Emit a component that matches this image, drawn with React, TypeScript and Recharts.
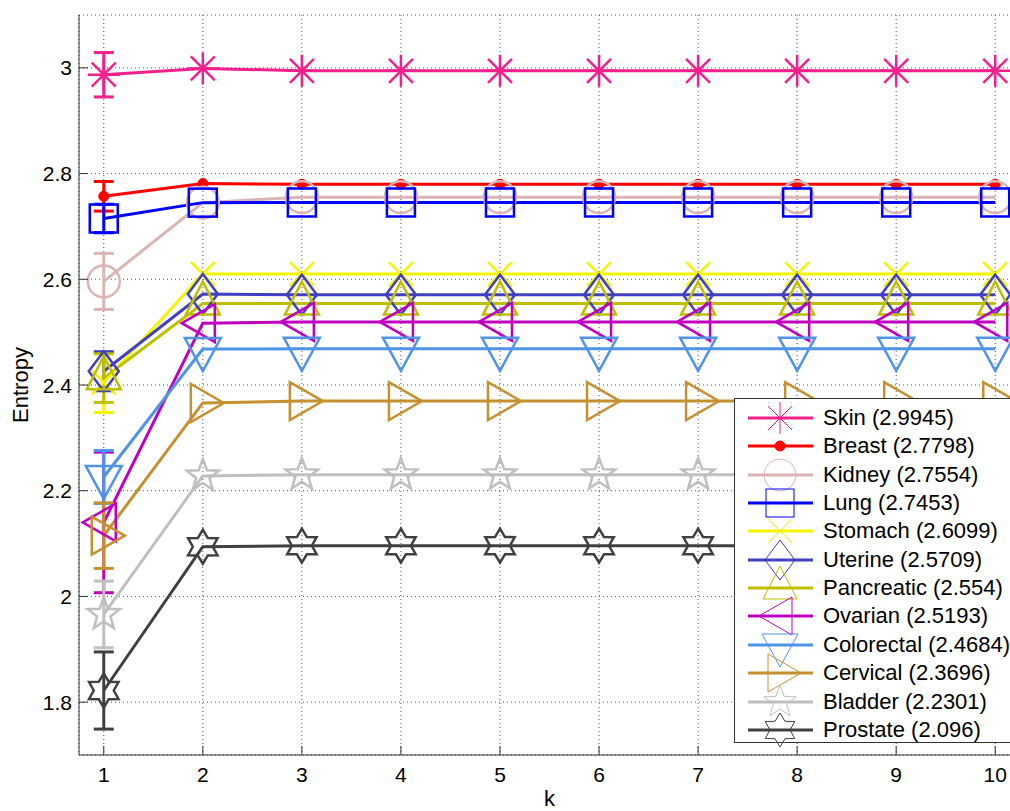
import React from 'react'
import { LineChart, Line, XAxis, YAxis, CartesianGrid, ErrorBar } from 'recharts'

const kValues = [1, 2, 3, 4, 5, 6, 7, 8, 9, 10]
const yTicks = [1.8, 2, 2.2, 2.4, 2.6, 2.8, 3]

const names = ['Skin', 'Breast', 'Kidney', 'Lung', 'Stomach', 'Uterine', 'Pancreatic', 'Ovarian', 'Colorectal', 'Cervical', 'Bladder', 'Prostate']
const legendValues = ['2.9945', '2.7798', '2.7554', '2.7453', '2.6099', '2.5709', '2.554', '2.5193', '2.4684', '2.3696', '2.2301', '2.096']

const skin = [2.987, 2.999, 2.9945, 2.9945, 2.9945, 2.9945, 2.9945, 2.9945, 2.9945, 2.9945]
const breast = [2.757, 2.781, 2.7798, 2.7798, 2.7798, 2.7798, 2.7798, 2.7798, 2.7798, 2.7798]
const kidney = [2.596, 2.745, 2.7554, 2.7554, 2.7554, 2.7554, 2.7554, 2.7554, 2.7554, 2.7554]
const lung = [2.715, 2.745, 2.7453, 2.7453, 2.7453, 2.7453, 2.7453, 2.7453, 2.7453, 2.7453]
const stomach = [2.405, 2.61, 2.6099, 2.6099, 2.6099, 2.6099, 2.6099, 2.6099, 2.6099, 2.6099]
const uterine = [2.426, 2.572, 2.5709, 2.5709, 2.5709, 2.5709, 2.5709, 2.5709, 2.5709, 2.5709]
const pancreatic = [2.413, 2.554, 2.554, 2.554, 2.554, 2.554, 2.554, 2.554, 2.554, 2.554]
const ovarian = [2.14, 2.517, 2.5193, 2.5193, 2.5193, 2.5193, 2.5193, 2.5193, 2.5193, 2.5193]
const colorectal = [2.226, 2.468, 2.4684, 2.4684, 2.4684, 2.4684, 2.4684, 2.4684, 2.4684, 2.4684]
const cervical = [2.115, 2.366, 2.3696, 2.3696, 2.3696, 2.3696, 2.3696, 2.3696, 2.3696, 2.3696]
const bladder = [1.966, 2.228, 2.2301, 2.2301, 2.2301, 2.2301, 2.2301, 2.2301, 2.2301, 2.2301]
const prostate = [1.822, 2.094, 2.096, 2.096, 2.096, 2.096, 2.096, 2.096, 2.096, 2.096]

// std error at k = 1 only
const errAtK1 = [0.042, 0.028, 0.053, 0.027, 0.057, 0.037, 0.046, 0.133, 0.05, 0.062, 0.063, 0.073]

const values = [skin, breast, kidney, lung, stomach, uterine, pancreatic, ovarian, colorectal, cervical, bladder, prostate]

const styles = [
  { color: '#f0218c', shape: 'asterisk' },
  { color: '#ff0000', shape: 'dot' },
  { color: '#dcb4b4', shape: 'circle' },
  { color: '#0000ff', shape: 'square' },
  { color: '#f5f500', shape: 'x' },
  { color: '#4040c0', shape: 'diamond' },
  { color: '#bfbf00', shape: 'triUp' },
  { color: '#bf00bf', shape: 'triLeft' },
  { color: '#4f94e6', shape: 'triDown' },
  { color: '#c59030', shape: 'triRight' },
  { color: '#bfbfbf', shape: 'pentagram' },
  { color: '#404040', shape: 'hexagram' },
]

const data = kValues.map((k, i) => {
  const row: Record<string, number | undefined> = { k }
  names.forEach((n, s) => {
    row[n] = values[s][i]
    row[n + 'Err'] = i === 0 ? errAtK1[s] : undefined
  })
  return row
})

function starPoints(cx: number, cy: number, n: number, rOut: number, rIn: number) {
  const pts: string[] = []
  for (let i = 0; i < n * 2; i++) {
    const r = i % 2 === 0 ? rOut : rIn
    const a = -Math.PI / 2 + (i * Math.PI) / n
    pts.push(`${cx + r * Math.cos(a)},${cy + r * Math.sin(a)}`)
  }
  return pts.join(' ')
}

function Marker({ shape, cx, cy, color, sw }: { shape: string; cx: number; cy: number; color: string; sw: number }) {
  const p = { fill: 'none', stroke: color, strokeWidth: sw, strokeLinejoin: 'miter' as const }
  switch (shape) {
    case 'asterisk': {
      const r = 16
      const d = 12
      return (
        <g {...p}>
          <line x1={cx} y1={cy - r} x2={cx} y2={cy + r} />
          <line x1={cx - r} y1={cy} x2={cx + r} y2={cy} />
          <line x1={cx - d} y1={cy - d} x2={cx + d} y2={cy + d} />
          <line x1={cx - d} y1={cy + d} x2={cx + d} y2={cy - d} />
        </g>
      )
    }
    case 'dot':
      return <circle cx={cx} cy={cy} r={5} fill={color} stroke={color} />
    case 'circle':
      return <circle cx={cx} cy={cy} r={16} {...p} />
    case 'square':
      return <rect x={cx - 14} y={cy - 14} width={28} height={28} {...p} />
    case 'x':
      return (
        <g {...p}>
          <line x1={cx - 12} y1={cy - 12} x2={cx + 12} y2={cy + 12} />
          <line x1={cx - 12} y1={cy + 12} x2={cx + 12} y2={cy - 12} />
        </g>
      )
    case 'diamond':
      return <polygon points={`${cx},${cy - 20} ${cx + 15},${cy} ${cx},${cy + 20} ${cx - 15},${cy}`} {...p} />
    case 'triUp':
      return <polygon points={`${cx},${cy - 22} ${cx + 17},${cy + 11} ${cx - 17},${cy + 11}`} {...p} />
    case 'triDown':
      return <polygon points={`${cx},${cy + 22} ${cx + 18},${cy - 11} ${cx - 18},${cy - 11}`} {...p} />
    case 'triLeft':
      return <polygon points={`${cx - 21},${cy} ${cx + 12},${cy - 19} ${cx + 12},${cy + 19}`} {...p} />
    case 'triRight':
      return <polygon points={`${cx + 21},${cy} ${cx - 12},${cy - 19} ${cx - 12},${cy + 19}`} {...p} />
    case 'pentagram':
      return <polygon points={starPoints(cx, cy, 5, 17, 7)} {...p} />
    case 'hexagram':
      return <polygon points={starPoints(cx, cy, 6, 17, 10)} {...p} />
    default:
      return null
  }
}

const font = 'Arial, "Liberation Sans", Helvetica, sans-serif'

// MATLAB-style ticks: short mark pointing into the plot, label outside
function XTick({ x, y, payload }: any) {
  return (
    <g>
      <line x1={x} y1={y} x2={x} y2={y - 9} stroke="#333" />
      <text x={x} y={y + 12} dy="0.71em" textAnchor="middle" fontSize={21} fontFamily={font} fill="#000">
        {payload.value}
      </text>
    </g>
  )
}

function YTick({ x, y, payload }: any) {
  return (
    <g>
      <line x1={x} y1={y} x2={x + 9} y2={y} stroke="#333" />
      <text x={x - 7} y={y} dy="0.36em" textAnchor="end" fontSize={21} fontFamily={font} fill="#000">
        {String(payload.value)}
      </text>
    </g>
  )
}

function LegendBox() {
  return (
    <div
      style={{
        position: 'absolute',
        left: 734,
        top: 398,
        width: 300,
        height: 343,
        border: '1px solid #333',
        background: '#fff',
        fontFamily: font,
        fontSize: 22,
        color: '#000',
      }}
    >
      {names.map((n, i) => (
        <div key={n} style={{ position: 'absolute', left: 0, top: 5 + i * 28.35, height: 28, display: 'flex', alignItems: 'center' }}>
          <svg width={80} height={40} style={{ overflow: 'visible' }}>
            <line x1={13} y1={20} x2={78} y2={20} stroke={styles[i].color} strokeWidth={3} />
            <Marker shape={styles[i].shape} cx={45} cy={20} color={styles[i].color} sw={1} />
          </svg>
          <span style={{ marginLeft: 8, whiteSpace: 'nowrap', lineHeight: '28px' }}>
            {n} ({legendValues[i]})
          </span>
        </div>
      ))}
    </div>
  )
}

export default function App() {
  return (
    <div style={{ position: 'absolute', left: 0, top: 0, width: 1010, height: 811, overflow: 'hidden', background: '#fff' }}>
      <LineChart width={1040} height={811} data={data} margin={{ top: 15, right: 20, left: 0, bottom: 0 }}>
        <CartesianGrid stroke="#555" strokeDasharray="1 3" />
        <XAxis
          dataKey="k"
          type="number"
          domain={[0.75, 10.25]}
          ticks={kValues}
          allowDataOverflow
          height={56}
          tickLine={false}
          tickSize={0}
          tickMargin={0}
          axisLine={{ stroke: '#333' }}
          tick={<XTick />}
          label={{ value: 'k', position: 'insideBottom', offset: 5, fontSize: 22, fill: '#000', fontFamily: font }}
        />
        <YAxis
          type="number"
          domain={[1.7, 3.1]}
          ticks={yTicks}
          allowDataOverflow
          width={79}
          tickLine={false}
          tickSize={0}
          tickMargin={0}
          axisLine={{ stroke: '#333' }}
          tick={<YTick />}
          label={{ value: 'Entropy', angle: -90, position: 'center', dx: -19, fontSize: 22, fill: '#000', fontFamily: font }}
        />
        {names.map((n, s) => (
          <Line
            key={n}
            type="linear"
            dataKey={n}
            stroke={styles[s].color}
            strokeWidth={3}
            isAnimationActive={false}
            activeDot={false}
            dot={(p: any) => (
              <Marker key={`${n}-${p.index}`} shape={styles[s].shape} cx={p.cx} cy={p.cy} color={styles[s].color} sw={2.5} />
            )}
          >
            <ErrorBar dataKey={n + 'Err'} direction="y" width={10} stroke={styles[s].color} strokeWidth={3} isAnimationActive={false} />
          </Line>
        ))}
      </LineChart>
      <LegendBox />
    </div>
  )
}
